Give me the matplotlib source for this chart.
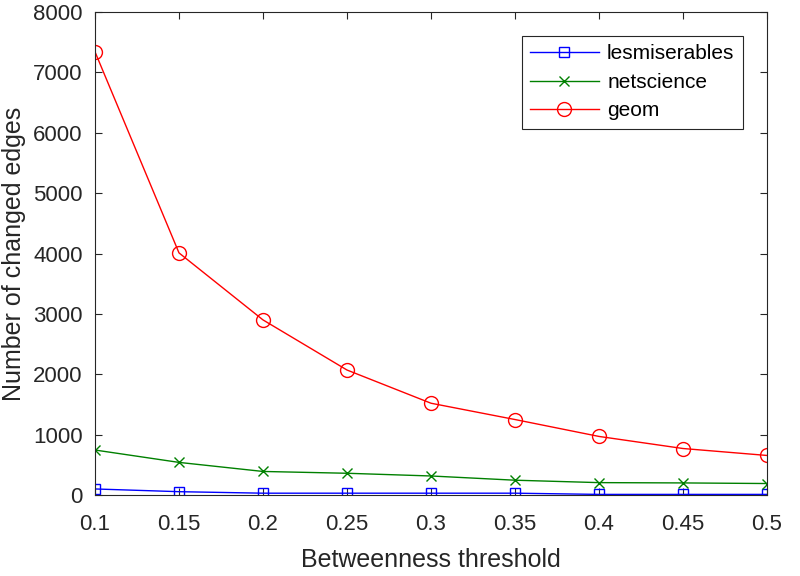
import matplotlib
matplotlib.use('Agg')
from matplotlib import pyplot as plt

plt.rcParams['font.family'] = ['Liberation Sans', 'DejaVu Sans']

thresholds = [0.1, 0.15, 0.2, 0.25, 0.3, 0.35, 0.4, 0.45, 0.5]
lesmiserables = [100, 55, 30, 30, 30, 30, 10, 10, 10]
netscience = [745, 540, 390, 360, 315, 245, 205, 200, 190]
geom = [7340, 4010, 2900, 2070, 1520, 1250, 970, 770, 655]

fig = plt.figure(figsize=(8, 5.76), dpi=100)
ax = fig.add_axes([95 / 800, 81 / 576, 672 / 800, 483 / 576])

ax.plot(thresholds, lesmiserables, color=(0, 0, 1), marker='s', markersize=7,
        markerfacecolor='none', linewidth=1, label='lesmiserables')
ax.plot(thresholds, netscience, color=(0, 0.5, 0), marker='x', markersize=7,
        linewidth=1, label='netscience')
ax.plot(thresholds, geom, color=(1, 0, 0), marker='o', markersize=10,
        markerfacecolor='none', linewidth=1, label='geom')

ax.set_xlim(0.1, 0.5)
ax.set_ylim(0, 8000)
ax.set_xticks(thresholds)
ax.set_xticklabels(['0.1', '0.15', '0.2', '0.25', '0.3', '0.35', '0.4', '0.45', '0.5'])
ax.set_yticks(range(0, 8001, 1000))
ax.tick_params(direction='in', top=True, right=True, labelsize=16,
               colors='#262626', length=5)
ax.tick_params(axis='x', pad=14)
ax.tick_params(axis='y', pad=9)
for s in ax.spines.values():
    s.set_color('#262626')
    s.set_linewidth(0.8)

ax.set_xlabel('Betweenness threshold', fontsize=18, color='#262626', labelpad=9)
ax.set_ylabel('Number of changed edges', fontsize=18, color='#262626', labelpad=5)

leg = ax.legend(loc='upper right', bbox_to_anchor=(0.964, 0.950), borderaxespad=0,
                fontsize=15, fancybox=False, edgecolor='#262626', framealpha=1,
                handlelength=3.3, handletextpad=0.4, borderpad=0.4,
                labelspacing=0.45)
leg.get_frame().set_linewidth(0.8)

plt.savefig('out.png')
